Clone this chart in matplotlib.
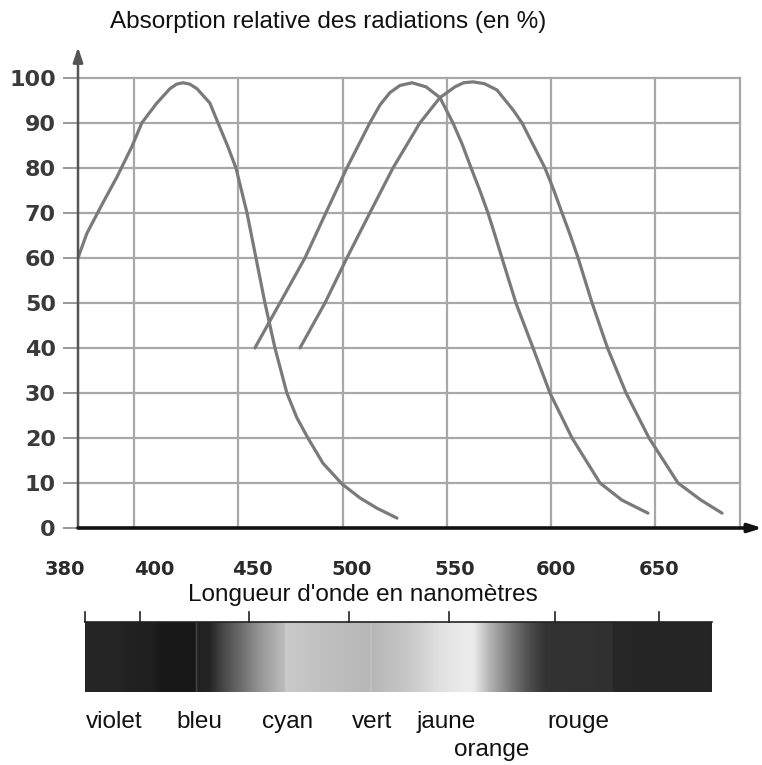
import matplotlib
matplotlib.use("Agg")
import matplotlib.pyplot as plt
import numpy as np
from matplotlib.transforms import ScaledTranslation
from matplotlib.colors import LinearSegmentedColormap

# absorption curves (x in nm, y in %)
blue_nm = [373.2, 377.5, 385.1, 391.9, 399.0, 403.8, 411.0, 417.3, 420.5, 423.5, 426.8, 430.2,
           436.4, 440.3, 444.8, 448.9, 454.2, 458.5, 462.8, 467.6, 473.3, 478.1,
           483.4, 490.6, 499.7, 508.3, 516.5, 526.1]
blue_pct = [60, 65.5, 72.2, 78, 84.7, 90, 94.4, 97.6, 98.6, 98.9, 98.6, 97.6,
            94.4, 90, 85, 80, 70, 60, 50, 40, 30, 24.5,
            20, 14.4, 9.8, 6.7, 4.4, 2.2]

green_nm = [458.0, 470.0, 482.0, 492.0, 502.1, 513.1, 518.0, 522.7, 527.5, 533.3, 540.0, 546.7,
            552.9, 557.4, 561.6, 565.8, 569.7, 573.1, 576.4, 583.1, 591.3, 599.4,
            610.0, 623.4, 633.9, 646.4]
green_pct = [40, 50, 60, 70, 80, 90, 94.0, 96.7, 98.3, 98.9, 98.0, 95.6,
             90, 85.2, 80, 75, 70, 65, 60, 50, 40, 30,
             20, 10, 6.2, 3.3]

red_nm = [479.6, 491.6, 502.1, 513.1, 524.2, 537.1, 546.7, 553.9, 558.0, 562.5, 568.0, 574.0,
          581.7, 586.0, 591.5, 597.0, 601.3, 605.2, 609.2, 612.9, 619.6, 627.0, 635.9,
          646.9, 660.8, 671.8, 681.9]
red_pct = [40, 50, 60, 70, 80, 90, 95.6, 98.0, 98.9, 99.1, 98.7, 97.3,
           92.9, 90, 85, 80, 75, 70, 65, 60, 50, 40, 30,
           20, 10, 6.2, 3.3]

y_ticks = [0, 10, 20, 30, 40, 50, 60, 70, 80, 90, 100]
x_grid = [400, 450, 500, 550, 600, 650]
x_labels = ["380", "400", "450", "500", "550", "600", "650"]
colour_names = ["violet", "bleu", "cyan", "vert", "jaune", "orange", "rouge"]

x0 = 373.2        # where the vertical axis stands
x_right = 690.5   # right border of the grid

fig = plt.figure(figsize=(7.62, 7.65), dpi=100)
ax = fig.add_axes([78 / 762, (765 - 528) / 765, 684.5 / 762, 488 / 765])
ax.set_xlim(x0, 701.3)
ax.set_ylim(0, 108.4)
for s in ax.spines.values():
    s.set_visible(False)

grid_col = "#a8a8a8"
for v in y_ticks[1:]:
    ax.plot([x0, x_right], [v, v], color=grid_col, lw=1.6, zorder=1)
for v in x_grid + [x_right]:
    ax.plot([v, v], [0, 100], color=grid_col, lw=1.6, zorder=1)

curve_col = "#7a7a7a"
for xs, ys in [(blue_nm, blue_pct), (green_nm, green_pct), (red_nm, red_pct)]:
    ax.plot(xs, ys, color=curve_col, lw=2.3, solid_capstyle="round",
            solid_joinstyle="round", zorder=3)

# axes with arrows
ax.annotate("", xy=(x0, 106.8), xytext=(x0, 0), annotation_clip=False,
            arrowprops=dict(arrowstyle="-|>,head_length=0.9,head_width=0.3",
                            color="#555555", lw=1.8, shrinkA=0, shrinkB=0), zorder=4)
ax.annotate("", xy=(701.3, 0), xytext=(x0, 0), annotation_clip=False,
            arrowprops=dict(arrowstyle="-|>,head_length=0.8,head_width=0.25",
                            color="#111111", lw=2.6, shrinkA=0, shrinkB=0), zorder=4)

ax.set_yticks(y_ticks)
ax.set_yticklabels([str(v) for v in y_ticks])
ax.tick_params(axis="y", length=11, width=1.4, color="#999999", pad=5,
               labelsize=16, labelcolor="#3a3a3a")
for lab in ax.get_yticklabels():
    lab.set_fontweight("bold")

ax.set_xticks([x0] + x_grid)
ax.set_xticklabels(x_labels)
ax.tick_params(axis="x", length=0, pad=23, labelsize=14, labelcolor="#2a2a2a")
label_shift = [-13, 20, 14, 9, 8, 5, 4]
for lab, dx in zip(ax.get_xticklabels(), label_shift):
    lab.set_fontweight("bold")
    lab.set_transform(lab.get_transform() + ScaledTranslation(dx / 100, 0, fig.dpi_scale_trans))

fig.text(110 / 762, 1 - 22 / 765, "Absorption relative des radiations (en %)",
         fontsize=17.5, family="Liberation Sans", ha="left", va="center", color="#111111")
fig.text(363 / 762, 1 - 595 / 765, "Longueur d'onde en nanomètres",
         fontsize=17.5, family="Liberation Sans", ha="center", va="center", color="#111111")

# grey spectrum strip
stops_px = [85, 120, 125, 154, 160, 195, 196, 197.5, 209, 225, 238, 259, 284.5, 285.5,
            322, 370, 371, 372, 407, 440, 466, 474, 491, 512, 530, 546, 612, 614, 712]
stops_grey = [0.15, 0.145, 0.135, 0.12, 0.095, 0.09, 0.27, 0.13, 0.14, 0.30, 0.40, 0.58,
              0.74, 0.79, 0.755, 0.72, 0.80, 0.715, 0.78, 0.88, 0.925, 0.92, 0.69, 0.47,
              0.30, 0.20, 0.19, 0.15, 0.145]
span = stops_px[-1] - stops_px[0]
cmap = LinearSegmentedColormap.from_list(
    "spec", [((p - stops_px[0]) / span, (g, g, g)) for p, g in zip(stops_px, stops_grey)], N=1024)

sp = fig.add_axes([85 / 762, (765 - 692) / 765, 627 / 762, 70 / 765])
sp.imshow(np.linspace(0, 1, 1200)[None, :], cmap=cmap, aspect="auto", extent=[0, 1, 0, 1],
          vmin=0, vmax=1)
sp.set_xlim(0, 1)
sp.set_ylim(0, 1)
sp.axis("off")
sp.plot([0, 1], [1, 1], color="#222222", lw=1.2, clip_on=False)
for t in [0.0, 0.087, 0.262, 0.421, 0.581, 0.749, 0.915]:
    sp.plot([t, t], [1, 1.14], color="#222222", lw=1.2, clip_on=False)

name_pos = [0.047, 0.182, 0.323, 0.458, 0.576, 0.648, 0.787]
name_y = [-0.43, -0.43, -0.43, -0.43, -0.43, -0.83, -0.43]
for name, px, py in zip(colour_names, name_pos, name_y):
    sp.text(px, py, name, transform=sp.transAxes, ha="center", va="center",
            fontsize=17.5, family="Liberation Sans", color="#111111")

fig.savefig("out.png", dpi=100, facecolor="white")
